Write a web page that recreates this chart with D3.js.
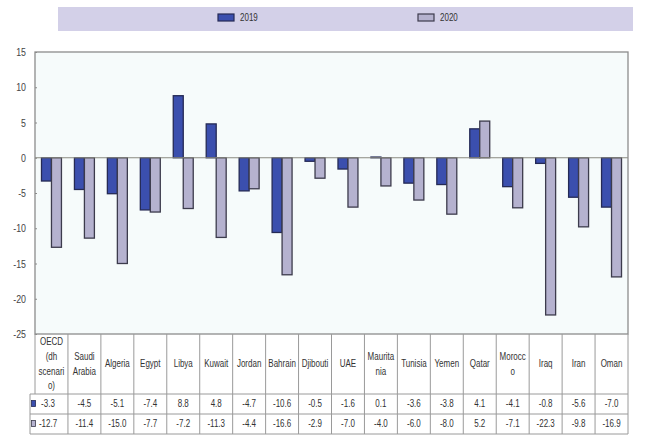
<!DOCTYPE html>
<html>
<head>
<meta charset="utf-8">
<script src="https://cdn.jsdelivr.net/npm/d3@7"></script>
<style>
  html, body { margin: 0; padding: 0; background: #ffffff; }
  svg { display: block; }
  text { font-family: "Liberation Sans", Arial, sans-serif; }
</style>
</head>
<body>
<svg id="chart" width="667" height="439"></svg>
<script>
// Real GDP growth, % change, 2019 and 2020
const categories = ["OECD (dh scenario)", "Saudi Arabia", "Algeria", "Egypt", "Libya", "Kuwait", "Jordan",
  "Bahrain", "Djibouti", "UAE", "Mauritania", "Tunisia", "Yemen", "Qatar", "Morocco", "Iraq", "Iran", "Oman"];
// Header cell text as it wraps inside the narrow table columns
const headerLines = [["OECD", "(dh", "scenari", "o)"], ["Saudi", "Arabia"], ["Algeria"], ["Egypt"], ["Libya"],
  ["Kuwait"], ["Jordan"], ["Bahrain"], ["Djibouti"], ["UAE"], ["Maurita", "nia"], ["Tunisia"], ["Yemen"],
  ["Qatar"], ["Morocc", "o"], ["Iraq"], ["Iran"], ["Oman"]];
const series = ["2019", "2020"];
const values2019 = [-3.3, -4.5, -5.1, -7.4, 8.8, 4.8, -4.7, -10.6, -0.5, -1.6, 0.1, -3.6, -3.8, 4.1, -4.1, -0.8, -5.6, -7.0];
const values2020 = [-12.7, -11.4, -15.0, -7.7, -7.2, -11.3, -4.4, -16.6, -2.9, -7.0, -4.0, -6.0, -8.0, 5.2, -7.1, -22.3, -9.8, -16.9];
const yTicks = [15, 10, 5, 0, -5, -10, -15, -20, -25];

const seriesValues = { "2019": values2019, "2020": values2020 };
const colors = { "2019": "#3b4fae", "2020": "#b5b2cf" };
const strokes = { "2019": "#252a55", "2020": "#3c3b4c" };

const locale = d3.formatLocale({ decimal: ".", thousands: ",", grouping: [3], currency: ["", ""], minus: "-" });
const fmt1 = locale.format(".1f");
const fmt0 = locale.format("d");

// horizontal squeeze used for the condensed typeface look
const SQUEEZE = 0.8;

const svg = d3.select("#chart");

// text drawn at (tx, ty) and squeezed horizontally around that anchor
function narrowText(parent, tx, ty, str, opts) {
  const g = parent.append("g").attr("transform", `translate(${tx},${ty}) scale(${SQUEEZE},1)`);
  return g.append("text")
    .attr("x", 0).attr("y", 0)
    .attr("font-size", opts.size)
    .attr("fill", opts.fill || "#333")
    .attr("text-anchor", opts.anchor || "middle")
    .attr("dominant-baseline", opts.baseline || "middle")
    .text(str);
}

const plot = { left: 35, right: 628, top: 52, bottom: 334 };

const x = d3.scaleBand().domain(categories).range([plot.left, plot.right]).padding(0);
const xs = d3.scaleBand().domain(series).range([0, x.bandwidth()]).paddingInner(0).paddingOuter(0.65);
const y = d3.scaleLinear().domain([-25, 15]).range([plot.bottom, plot.top]);

// Legend band
const legend = svg.append("g");
legend.append("rect")
  .attr("x", 58).attr("y", 7).attr("width", 575).attr("height", 24)
  .attr("fill", "#d3d0e8");
const legendX = { "2019": 218, "2020": 418 };
series.forEach(s => {
  legend.append("rect")
    .attr("x", legendX[s]).attr("y", 14).attr("width", 16).attr("height", 7)
    .attr("fill", colors[s]).attr("stroke", strokes[s]).attr("stroke-width", 1.2);
  narrowText(legend, legendX[s] + 22, 18, s, { size: 10, anchor: "start", fill: "#333" });
});

// Plot background
svg.append("rect")
  .attr("x", plot.left).attr("y", plot.top)
  .attr("width", plot.right - plot.left).attr("height", plot.bottom - plot.top)
  .attr("fill", "#f6fbfb");

// Y axis
const yAxis = svg.append("g")
  .attr("transform", `translate(${plot.left},0)`)
  .call(d3.axisLeft(y).tickValues(yTicks).tickFormat(fmt0).tickSize(-2).tickPadding(9));
yAxis.select(".domain").remove();
yAxis.selectAll(".tick line").attr("stroke", "#888");
yAxis.selectAll(".tick text")
  .attr("fill", "#444").attr("font-size", 11)
  .attr("x", 0)
  .attr("transform", `translate(-9,0) scale(${SQUEEZE},1)`);

// Bars
const bars = svg.append("g");
series.forEach(s => {
  bars.selectAll(null)
    .data(categories.map((c, i) => ({ c, v: seriesValues[s][i] })))
    .join("rect")
    .attr("x", d => x(d.c) + xs(s))
    .attr("width", xs.bandwidth())
    .attr("y", d => y(Math.max(0, d.v)))
    .attr("height", d => Math.abs(y(d.v) - y(0)))
    .attr("fill", colors[s])
    .attr("stroke", strokes[s])
    .attr("stroke-width", 1.3);
});

// Zero line
svg.append("line")
  .attr("x1", plot.left).attr("x2", plot.right)
  .attr("y1", y(0)).attr("y2", y(0))
  .attr("stroke", "#8a8a80").attr("stroke-width", 1.2);

// Plot frame
svg.append("rect")
  .attr("x", plot.left).attr("y", plot.top)
  .attr("width", plot.right - plot.left).attr("height", plot.bottom - plot.top)
  .attr("fill", "none").attr("stroke", "#8c8c8c").attr("stroke-width", 1.3);

// Data table beneath the plot
const table = { headerBottom: 394, row1Bottom: 414, row2Bottom: 434, firstLeft: 30 };
const grid = svg.append("g").attr("stroke", "#9a9a9a").attr("stroke-width", 1).attr("fill", "none");

categories.forEach((c, i) => {
  const xl = x(c);
  grid.append("line")
    .attr("x1", xl).attr("x2", xl)
    .attr("y1", plot.bottom).attr("y2", i === 0 ? table.headerBottom : table.row2Bottom);
});
grid.append("line").attr("x1", plot.right).attr("x2", plot.right).attr("y1", plot.bottom).attr("y2", table.row2Bottom);
grid.append("line").attr("x1", table.firstLeft).attr("x2", table.firstLeft).attr("y1", table.headerBottom).attr("y2", table.row2Bottom);
[table.headerBottom, table.row1Bottom, table.row2Bottom].forEach(yy => {
  grid.append("line").attr("x1", table.firstLeft).attr("x2", plot.right).attr("y1", yy).attr("y2", yy);
});

// header labels
const header = svg.append("g");
categories.forEach((c, i) => {
  const lines = headerLines[i];
  const cx = x(c) + x.bandwidth() / 2;
  const lineGap = 14.8;
  const cy = (plot.bottom + table.headerBottom) / 2 + 0.5;
  lines.forEach((ln, j) => {
    narrowText(header, cx, cy + (j - (lines.length - 1) / 2) * lineGap, ln, { size: 10, fill: "#333" });
  });
});

// value rows with series keys
const rowCenters = { "2019": (table.headerBottom + table.row1Bottom) / 2, "2020": (table.row1Bottom + table.row2Bottom) / 2 };
const cells = svg.append("g");
series.forEach(s => {
  categories.forEach((c, i) => {
    const cx = i === 0 ? 48 : x(c) + x.bandwidth() / 2;
    narrowText(cells, cx, rowCenters[s], fmt1(seriesValues[s][i]), { size: 10, fill: "#333" });
  });
  svg.append("rect")
    .attr("x", table.firstLeft + 1.5).attr("y", rowCenters[s] - 3.5)
    .attr("width", 4).attr("height", 6)
    .attr("fill", colors[s]).attr("stroke", strokes[s]).attr("stroke-width", 0.8);
});
</script>
</body>
</html>
